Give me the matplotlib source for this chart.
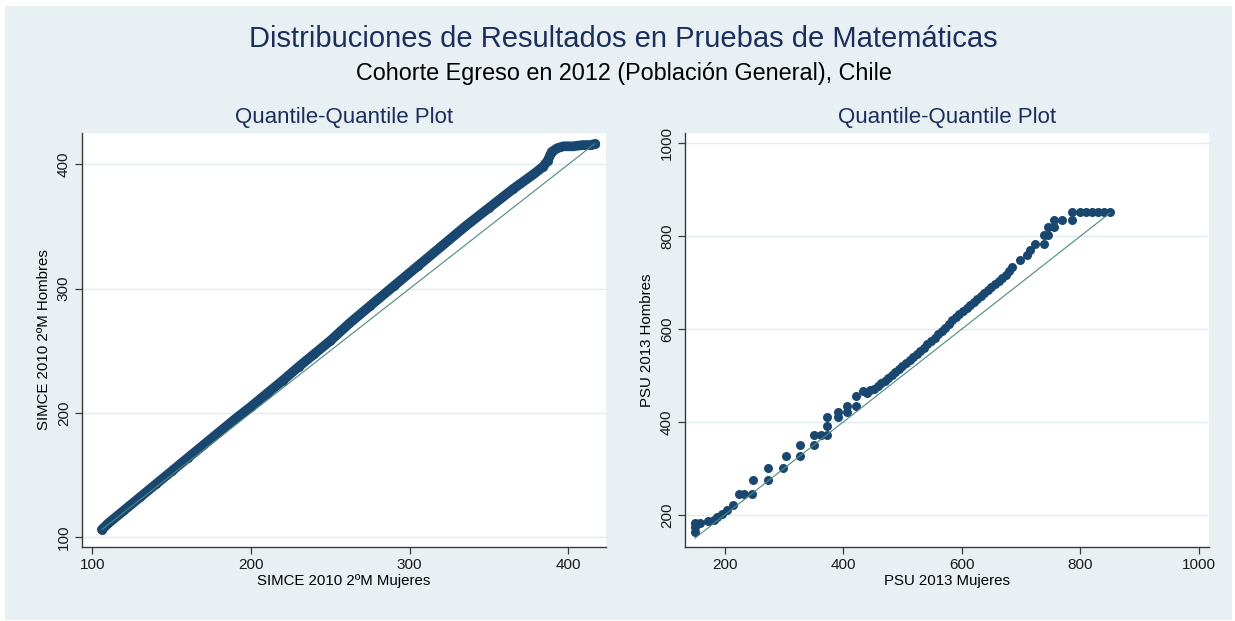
import matplotlib

matplotlib.use("Agg")
import matplotlib.pyplot as plt
from matplotlib.patches import Rectangle

plt.rcParams["font.family"] = ["Liberation Sans", "DejaVu Sans"]

# quantiles (Mujeres -> x, Hombres -> y)
simce_mujeres = [106, 110, 120, 130, 140, 150, 160, 170, 180, 190, 200, 210, 220,
                 230, 240, 250, 262, 275, 290, 305, 320, 335, 350, 365, 378, 384,
                 387, 389.5, 393, 397, 403, 409, 414, 417]
simce_hombres = [106, 111, 121.5, 132, 142.5, 153, 163.5, 174, 184.5, 195, 205,
                 215.5, 226, 237, 247.5, 258, 272, 286, 302, 318, 334, 350,
                 365, 380, 392, 398, 403, 410, 413, 414.5, 414.5, 415.5, 415.5, 416.5]

psu_mujeres = [150, 150, 150, 159, 172, 182, 188, 195, 204, 214, 224, 233, 247,
               248, 274, 274, 298, 303, 327, 327, 351, 351, 363, 372, 372, 372,
               392, 392, 406, 406, 421, 421, 434,
               440, 446, 452, 458, 464, 470, 476, 482, 488, 494, 500, 506, 512,
               518, 524, 530, 536, 542, 548, 554, 560, 566, 572, 578, 584, 590,
               596, 602, 608, 614, 620, 626, 632, 638, 644, 650, 656, 662, 668,
               674, 680,
               684, 698, 710, 715, 723, 738, 738, 746, 746, 755, 755, 769, 786,
               786, 800, 810, 820, 830, 840, 850]
psu_hombres = [164, 173, 182, 182, 186, 189, 196, 203, 211, 221, 246, 246, 246,
               275, 275, 301, 301, 326, 326, 351, 351, 373, 373, 373, 392, 410,
               410, 421, 421, 435, 435, 456, 467,
               462, 468, 472, 478, 483, 488, 495, 501, 507, 514, 520, 527, 533,
               540, 546, 553, 560, 567, 574, 581, 589, 596, 603, 611, 619, 626,
               633, 639, 646, 652, 659, 665, 671, 677, 684, 690, 696, 703, 710,
               717, 725,
               734, 748, 759, 770, 784, 784, 802, 802, 820, 820, 835, 835, 835,
               853, 853, 853, 853, 853, 853, 853]

panels = [
    dict(x=simce_mujeres, y=simce_hombres, ref=(106, 416.5),
         xlim=(93.5, 423.7), ylim=(92, 425.2), ticks=[100, 200, 300, 400],
         xlabel="SIMCE 2010 2ºM Mujeres", ylabel="SIMCE 2010 2ºM Hombres",
         dense=True),
    dict(x=psu_mujeres, y=psu_hombres, ref=(150, 850),
         xlim=(133.2, 1016.9), ylim=(131, 1022), ticks=[200, 400, 600, 800, 1000],
         xlabel="PSU 2013 Mujeres", ylabel="PSU 2013 Hombres", dense=False),
]

NAVY = "#1a476f"
REF = "#4a8a7c"
BG = "#e8f0f3"
GRID = "#e2ebee"

fig = plt.figure(figsize=(12.35, 6.21), dpi=100, facecolor="white")
fig.patches.append(Rectangle((5 / 1235, 1 / 621), 1227 / 1235, 614 / 621,
                             transform=fig.transFigure, facecolor=BG,
                             edgecolor="none", zorder=-10))

fig.text(0.505, 0.937, "Distribuciones de Resultados en Pruebas de Matemáticas",
         ha="center", va="center", fontsize=21, color="#1c2f5c")
fig.text(0.505, 0.881, "Cohorte Egreso en 2012 (Población General), Chile",
         ha="center", va="center", fontsize=16.8, color="black")

lefts = [82 / 1235, 685 / 1235]
for left, p in zip(lefts, panels):
    ax = fig.add_axes([left, 1 - 547 / 621, 524 / 1235, 414 / 621])
    ax.set_facecolor("white")
    ax.set_xlim(*p["xlim"])
    ax.set_ylim(*p["ylim"])
    ax.set_xticks(p["ticks"])
    ax.set_yticks(p["ticks"])
    ax.grid(axis="y", color=GRID, linewidth=1.0)
    ax.set_axisbelow(True)
    for s in ("top", "right"):
        ax.spines[s].set_visible(False)
    for s in ("left", "bottom"):
        ax.spines[s].set_color("#3a3a3a")
        ax.spines[s].set_linewidth(1.0)
    ax.tick_params(direction="out", length=5, width=0.9, color="#3a3a3a",
                   labelsize=11, labelcolor="#1a1a1a", pad=3)
    for lab in ax.get_yticklabels():
        lab.set_rotation(90)
        lab.set_va("center")

    if p["dense"]:
        ax.plot(p["x"], p["y"], color=NAVY, linewidth=7,
                solid_capstyle="round", solid_joinstyle="round", zorder=3)
    ax.plot(p["x"], p["y"], "o", color=NAVY, markersize=6.5,
            markeredgewidth=0, zorder=3)
    ax.plot(p["ref"], p["ref"], color=REF, linewidth=0.8, zorder=4)

    ax.set_title("Quantile-Quantile Plot", fontsize=16, color="#1c2f5c", pad=7)
    ax.set_xlabel(p["xlabel"], fontsize=10.8, labelpad=1)
    ax.set_ylabel(p["ylabel"], fontsize=10.8, labelpad=4)

fig.savefig("out.png", dpi=100, facecolor="white")
